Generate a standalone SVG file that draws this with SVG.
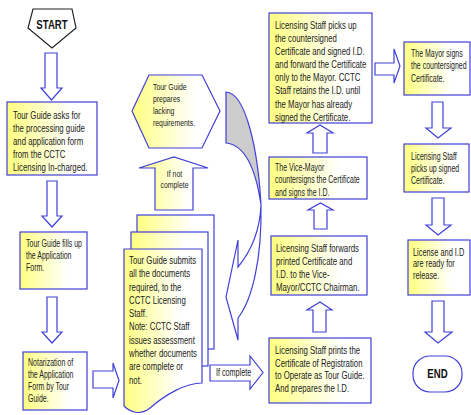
<svg xmlns="http://www.w3.org/2000/svg" width="471" height="415" viewBox="0 0 471 415">
<defs>
<linearGradient id="yg" x1="0" y1="0" x2="1" y2="0">
<stop offset="0" stop-color="#FFFF80"/>
<stop offset="0.72" stop-color="#FFFFFF"/>
</linearGradient>
<style>
.bx{fill:url(#yg);stroke:#4040D8;stroke-width:1.2}
.ar{fill:#FFFFFF;stroke:#4040D8;stroke-width:1.2;stroke-linejoin:miter}
.t{font-family:"Liberation Sans",Arial,sans-serif;fill:#222222}
.b{font-family:"Liberation Sans",Arial,sans-serif;font-weight:bold;fill:#111111;text-anchor:middle}
</style>
</defs>
<rect width="471" height="415" fill="#FFFFFF"/>

<g id="connectors">
<path class="ar" d="M45,53 H57 V88 H62 L51.5,100 L41,88 H45 Z"/>
<path class="ar" d="M47,181 H57 V216 H62 L52,227 L42,216 H47 Z"/>
<path class="ar" d="M47,297 H57 V332 H62 L52,343 L42,332 H47 Z"/>
<path class="ar" d="M93,371 H113 V363 L119,380.5 L113,398 V388 H93 Z"/>
<g id="if-complete">
<path class="ar" d="M210,365 H250 V356 L263,372.5 L250,389 V381 H210 Z"/>
<text class="t" font-size="10" transform="translate(216,376) scale(0.72,1)">If complete</text>
</g>
<g id="if-not-complete">
<path class="bx" d="M155,210 V168 H139 L174,157 L208,168 H193 V210 Z"/>
<text class="t" font-size="9.7" text-anchor="middle" transform="translate(174.5,176.5) scale(0.71,1)"><tspan x="0" y="0">If not</tspan><tspan x="0" y="12">complete</tspan></text>
</g>
<path class="ar" d="M313,332 V310 H307 L320,302 L332,310 H326 V332 Z"/>
<path class="ar" d="M314,229 V210 H308 L320.5,203 L333,210 H327 V229 Z"/>
<path class="ar" d="M313,153 V133 H307 L320,125 L333,133 H327 V153 Z"/>
<path class="ar" d="M375,63 H394 V49 L400,66 L394,83 V75 H375 Z"/>
<path class="ar" d="M432,102 H443 V128 H451 L438,138 L426,128 H432 Z"/>
<path class="ar" d="M432,198 H444 V225 H451 L438,235 L426,225 H432 Z"/>
<path class="ar" d="M432,301 H444 V332 H452 L438,343 L425,332 H432 Z"/>
<g id="curved-arrow">
<path d="M226,92 C246,93 258,150 261,205 C256,170 245,145 226,143 Z" fill="#CCCCCC" stroke="#4040D8" stroke-width="1.2"/>
<path class="ar" d="M261,205 C262,260 252,300 238,318 L238,340 L226,297 L238,240 L238,267 C252,250 260,230 261,205 Z"/>
</g>
</g>

<g id="start">
<polygon points="33,9 72,9 76,28 52,48 28,28" fill="#FFFFFF" stroke="#222222" stroke-width="1.2"/>
<text class="b" font-size="12" transform="translate(52,28.5) scale(0.8,1)">START</text>
</g>

<g id="n1">
<rect class="bx" x="7" y="102" width="90" height="73"/>
<text class="t" font-size="11" transform="translate(13,119) scale(0.71,1)"><tspan x="0" y="0">Tour Guide asks for</tspan><tspan x="0" y="13">the processing guide</tspan><tspan x="0" y="26">and application form</tspan><tspan x="0" y="39">from the CCTC</tspan><tspan x="0" y="52">Licensing In-charged.</tspan></text>
</g>

<g id="n2">
<rect class="bx" x="20" y="232" width="67" height="57"/>
<text class="t" font-size="10" transform="translate(26,247) scale(0.70,1)"><tspan x="0" y="0">Tour Guide fills up</tspan><tspan x="0" y="12">the Application</tspan><tspan x="0" y="24">Form.</tspan></text>
</g>

<g id="n3">
<rect class="bx" x="23" y="352" width="64" height="58"/>
<text class="t" font-size="10" transform="translate(28,366) scale(0.70,1)"><tspan x="0" y="0">Notarization of</tspan><tspan x="0" y="12">the Application</tspan><tspan x="0" y="24">Form by Tour</tspan><tspan x="0" y="36">Guide.</tspan></text>
</g>

<g id="n4">
<rect class="bx" x="137" y="215" width="77" height="134"/>
<rect class="bx" x="131" y="232" width="77" height="134"/>
<path class="bx" d="M124,249 H202 V383 C185,383 165,395 150,408 C140,416 130,412 124,406 Z"/>
<text class="t" font-size="11" transform="translate(129,264) scale(0.71,1)"><tspan x="0" y="0">Tour Guide submits</tspan><tspan x="0" y="13.3">all the documents</tspan><tspan x="0" y="26.6">required, to the</tspan><tspan x="0" y="39.9">CCTC Licensing</tspan><tspan x="0" y="53.2">Staff.</tspan><tspan x="0" y="66.5">Note: CCTC Staff</tspan><tspan x="0" y="79.8">issues assessment</tspan><tspan x="0" y="93.1">whether documents</tspan><tspan x="0" y="106.4">are complete or</tspan><tspan x="0" y="119.7">not.</tspan></text>
</g>

<g id="n5">
<polygon class="bx" points="149,75 202,75 220,111 202,148 149,148 132,111"/>
<text class="t" font-size="9.7" transform="translate(153,90) scale(0.71,1)"><tspan x="0" y="0">Tour Guide</tspan><tspan x="0" y="12">prepares</tspan><tspan x="0" y="24">lacking</tspan><tspan x="0" y="36">requirements.</tspan></text>
</g>

<g id="n6">
<rect class="bx" x="269" y="338" width="102" height="65"/>
<text class="t" font-size="11" transform="translate(275,354) scale(0.71,1)"><tspan x="0" y="0">Licensing Staff prints the</tspan><tspan x="0" y="12.7">Certificate of Registration</tspan><tspan x="0" y="25.4">to Operate as Tour Guide.</tspan><tspan x="0" y="38.1">And prepares the I.D.</tspan></text>
</g>

<g id="n7">
<rect class="bx" x="271" y="236" width="96" height="59"/>
<text class="t" font-size="11" transform="translate(276,252) scale(0.71,1)"><tspan x="0" y="0">Licensing Staff forwards</tspan><tspan x="0" y="13">printed Certificate and</tspan><tspan x="0" y="26">I.D. to the Vice-</tspan><tspan x="0" y="39">Mayor/CCTC Chairman.</tspan></text>
</g>

<g id="n8">
<rect class="bx" x="269" y="157" width="98" height="42"/>
<text class="t" font-size="10" transform="translate(275,171) scale(0.70,1)"><tspan x="0" y="0">The Vice-Mayor</tspan><tspan x="0" y="12.5">countersigns the Certificate</tspan><tspan x="0" y="25">and signs the I.D.</tspan></text>
</g>

<g id="n9">
<rect class="bx" x="269" y="13" width="103" height="110"/>
<text class="t" font-size="11" transform="translate(275,29) scale(0.71,1)"><tspan x="0" y="0">Licensing Staff picks up</tspan><tspan x="0" y="13.1">the countersigned</tspan><tspan x="0" y="26.2">Certificate and signed I.D.</tspan><tspan x="0" y="39.3">and forward the Certificate</tspan><tspan x="0" y="52.4">only to the Mayor. CCTC</tspan><tspan x="0" y="65.5">Staff retains the I.D. until</tspan><tspan x="0" y="78.6">the Mayor has already</tspan><tspan x="0" y="91.7">signed the Certificate.</tspan></text>
</g>

<g id="n10">
<rect class="bx" x="404" y="42" width="66" height="53"/>
<text class="t" font-size="10" transform="translate(411,57) scale(0.70,1)"><tspan x="0" y="0">The Mayor signs</tspan><tspan x="0" y="12.5">the countersigned</tspan><tspan x="0" y="25">Certificate.</tspan></text>
</g>

<g id="n11">
<rect class="bx" x="404" y="144" width="65" height="48"/>
<text class="t" font-size="10" transform="translate(411,160) scale(0.70,1)"><tspan x="0" y="0">Licensing Staff</tspan><tspan x="0" y="12">picks up signed</tspan><tspan x="0" y="24">Certificate.</tspan></text>
</g>

<g id="n12">
<rect class="bx" x="408" y="240" width="62" height="55"/>
<text class="t" font-size="10.4" transform="translate(413,256) scale(0.71,1)"><tspan x="0" y="0">License and I.D</tspan><tspan x="0" y="11.5">are ready for</tspan><tspan x="0" y="23">release.</tspan></text>
</g>

<g id="end">
<rect x="413" y="356" width="49" height="36" rx="17" ry="17" fill="#FFFFFF" stroke="#4040D8" stroke-width="1.2"/>
<text class="b" font-size="12" transform="translate(437.5,378) scale(0.8,1)">END</text>
</g>
</svg>
